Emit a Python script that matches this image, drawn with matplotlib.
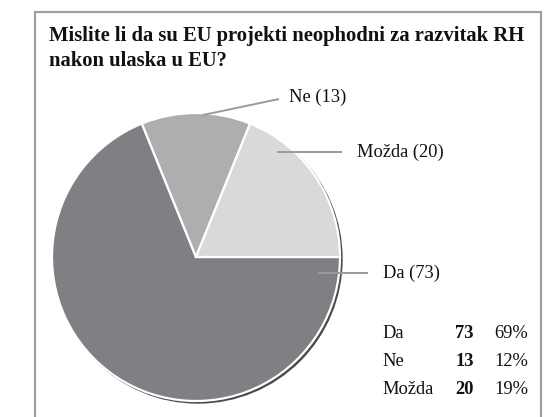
import matplotlib.pyplot as plt
from matplotlib.patches import Circle, Rectangle

labels = ['Da', 'Ne', 'Možda']
values = [73, 13, 20]
colors = ['#808084', '#aeaeb0', '#d8d9da']

title_lines = ['Mislite li da su EU projekti neophodni za razvitak RH',
               'nakon ulaska u EU?']

W, H = 544, 417
fig = plt.figure(figsize=(W / 100, H / 100), dpi=100)
ax = fig.add_axes([0, 0, 1, 1])

serif = 'Liberation Serif'

# pie
cx, cy, r = 196, H - 257, 144
ax.add_patch(Circle((cx + 2, cy - 2), r, color='#4a4a4a', zorder=1))
wedges, _ = ax.pie(values, colors=colors, startangle=0, counterclock=False,
                   center=(cx, cy), radius=r, frame=True,
                   wedgeprops=dict(edgecolor='white', linewidth=1.6, zorder=2))
ax.set_xlim(0, W)
ax.set_ylim(0, H)
ax.set_aspect('equal')
ax.axis('off')

# frame
ax.add_patch(Rectangle((35, -5), 506, H - 12 + 5, fill=False,
                       edgecolor='#a0a0a4', linewidth=1.6))

for line, y in zip(title_lines, [41, 66]):
    ax.text(49, H - y, line, fontsize=14.9, fontweight='bold', family=serif,
            va='baseline', ha='left', color='#111111')

# leader lines and labels
leaders = [((318, 273), (368, 273), (383, 273)),
           ((203, 115), (279, 99), (289, 97)),
           ((277, 152), (342, 152), (357, 152))]
for (p0, p1, pt), lab, val in zip(leaders, labels, values):
    ax.plot([p0[0], p1[0]], [H - p0[1], H - p1[1]], color='#9a9a9c',
            linewidth=1.4, zorder=3, solid_capstyle='butt')
    ax.text(pt[0], H - pt[1], f'{lab} ({val})', fontsize=13.3, family=serif,
            va='center', ha='left', color='#111111')

# table
total = sum(values)
rows_y = [333, 361, 390]
for lab, val, y in zip(labels, values, rows_y):
    ax.text(382, H - y, lab, fontsize=13.3, family=serif, va='center',
            ha='left', color='#111111')
    ax.text(474, H - y, str(val), fontsize=13.3, family=serif,
            fontweight='bold', va='center', ha='right', color='#111111')
    ax.text(528, H - y, f'{round(val / total * 100)}%', fontsize=13.3,
            family=serif, va='center', ha='right', color='#111111')

fig.savefig('out.png', dpi=100)
